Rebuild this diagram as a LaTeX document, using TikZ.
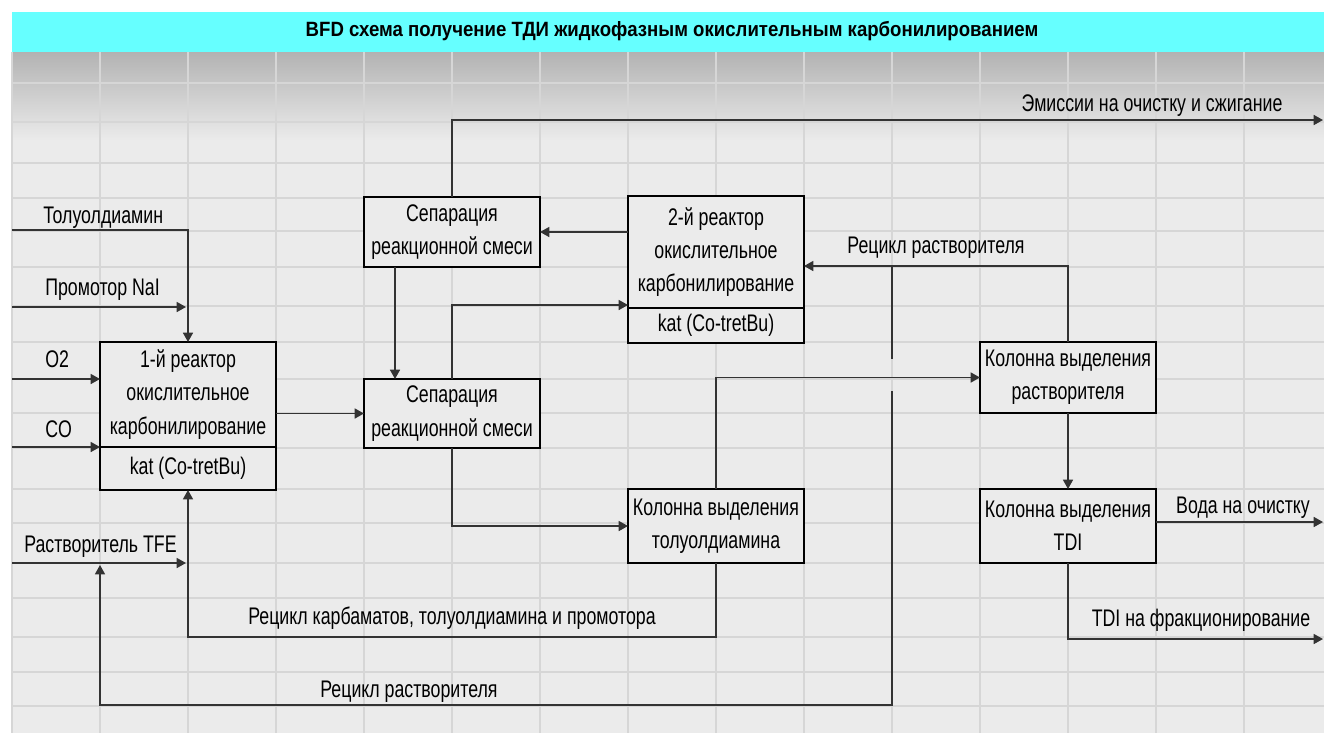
\documentclass[tikz,border=0pt]{standalone}
\usepackage{fontspec}
\setmainfont{Liberation Sans}[FakeStretch=0.74]
\newfontfamily\titlefont{Liberation Sans}[FakeStretch=0.9]
\usetikzlibrary{arrows.meta, positioning, calc}

\newcommand{\flowfont}{\fontsize{18}{25}\selectfont}

\begin{document}
\begin{tikzpicture}[x=0.75pt, y=-0.75pt,
    proc/.style={draw=black, line width=2.2pt, fill=cellfill, inner sep=0pt, outer sep=0pt,
                 minimum width=132pt, align=center, font=\flowfont},
    flow/.style={draw=black!80, line width=1.2pt, -{Triangle[length=7pt,width=7.5pt]}},
    line/.style={draw=black!80, line width=1.2pt},
    lbl/.style={anchor=base, inner sep=0pt, font=\flowfont}]
    % Define colors for the sheet
    \definecolor{cellfill}{HTML}{EBEBEB}   % cell background
    \definecolor{gridline}{HTML}{D6D6D6}   % cell borders
    \definecolor{titlecyan}{HTML}{66FFFF}  % title bar

    \useasboundingbox (0,0) rectangle (1324,733);
    \fill[white] (0,0) rectangle (1324,733);

    % Sheet and grid
    \fill[cellfill] (12,52) rectangle (1324,733);
    \shade[top color=black!30, bottom color=cellfill] (12,52) rectangle (1324,140);
    \foreach \x in {12,100,...,1244}
    \draw[gridline, line width=1.1pt] (\x,52) -- (\x,733);
    \foreach \y in {83,122,163,198,231,267,306,342,379,413,448,489,523,563,598,637,672,706}
    \draw[gridline, line width=1.1pt] (12,\y) -- (1324,\y);

    % Title
    \fill[titlecyan] (12,12) rectangle (1324,52);
    \node[font=\titlefont\bfseries\fontsize{15.5}{17}\selectfont] (title) at (672,31)
        {BFD схема получение ТДИ жидкофазным окислительным карбонилированием};

    % Process blocks
    \node[proc, anchor=north west, minimum height=78.75pt] (r1) at (100,342) {1-й реактор\\окислительное\\карбонилирование};
    \node[proc, anchor=north, minimum height=32.25pt] (r1k) at (r1.south) {kat (Co-tretBu)};
    \node[proc, anchor=north west, minimum height=52.5pt] (s1) at (364,197) {Сепарация\\реакционной смеси};
    \node[proc, anchor=north west, minimum height=51.75pt] (s2) at (364,379) {Сепарация\\реакционной смеси};
    \node[proc, anchor=north west, minimum height=84pt] (r2) at (628,196) {2-й реактор\\окислительное\\карбонилирование};
    \node[proc, anchor=north, minimum height=26.25pt] (r2k) at (r2.south) {kat (Co-tretBu)};
    \node[proc, anchor=north west, minimum height=55.5pt] (k1) at (628,489) {Колонна выделения\\толуолдиамина};
    \node[proc, anchor=north west, minimum height=53.25pt] (k2) at (980,342) {Колонна выделения\\растворителя};
    \node[proc, anchor=north west, minimum height=55.5pt] (k3) at (980,489) {Колонна выделения\\TDI};

    % Free ends and bends
    \coordinate (tol) at (12,230);
    \coordinate (prom) at (12,307);
    \coordinate (promend) at (186,307);
    \coordinate (oxy) at (12,379);
    \coordinate (carb) at (12,447);
    \coordinate (tfe) at (12,563);
    \coordinate (tfeend) at (186,563);
    \coordinate (emis) at (1323,120);
    \coordinate (rsplit) at (892,266);
    \coordinate (jumpa) at (892,359);
    \coordinate (jumpb) at (892,391);
    \coordinate (rbot) at (892,705);
    \coordinate (tfejoin) at (100,565);
    \coordinate (recb) at (188,637);
    \coordinate (voda) at (1323,522);
    \coordinate (tdi) at (1323,639);

    % Feeds
    \draw[flow] (tol) -| (r1.north);
    \draw[flow] (prom) -- (promend);
    \draw[flow] (oxy) -- (oxy -| r1.west);
    \draw[flow] (carb) -- (carb -| r1.west);
    \draw[flow] (tfe) -- (tfeend);

    % Main flows
    \draw[flow] (s2.west -| r1.east) -- (s2.west);
    \draw[flow] ($(s1.south west)+(31,0)$) -- ($(s2.north west)+(31,0)$);
    \draw[flow] (s2.north) |- ($(r2.south west)+(0,-3)$);
    \draw[flow] (s1.east -| r2.west) -- (s1.east);
    \draw[flow] (s1.north) |- (emis);
    \draw[flow] (s2.south) |- (k1.west);
    \draw[flow] (k1.north) |- (k2.west);
    \draw[flow] (k2) -- (k3);
    \draw[flow] (k3.east |- voda) -- (voda);
    \draw[flow] (k3.south) |- (tdi);

    % Recycles
    \draw[flow] (k2.north) |- (rsplit -| r2.east);
    \draw[line] (rsplit) -- (jumpa);
    \draw[flow] (jumpb) -- (rbot) -| (tfejoin);
    \draw[flow] (k1.south) |- (recb) -- (r1k.south);

    % Stream labels
    \node[lbl, anchor=base west] (ltol) at (43,223) {Толуолдиамин};
    \node[lbl, anchor=base west] (lprom) at (45,295) {Промотор NaI};
    \node[lbl, anchor=base west] (loxy) at (45,367) {O2};
    \node[lbl, anchor=base west] (lcarb) at (45,437) {CO};
    \node[lbl, anchor=base west] (ltfe) at (24,552) {Растворитель TFE};
    \node[lbl] (lrecb) at (452,624) {Рецикл карбаматов, толуолдиамина и промотора};
    \node[lbl] (lrecs) at (409,697) {Рецикл растворителя};
    \node[lbl] (lrect) at (936,253) {Рецикл растворителя};
    \node[lbl] (lemis) at (1152,111) {Эмиссии на очистку и сжигание};
    \node[lbl] (lvoda) at (1243,513) {Вода на очистку};
    \node[lbl] (ltdi) at (1201,626) {TDI на фракционирование};
\end{tikzpicture}
\end{document}
